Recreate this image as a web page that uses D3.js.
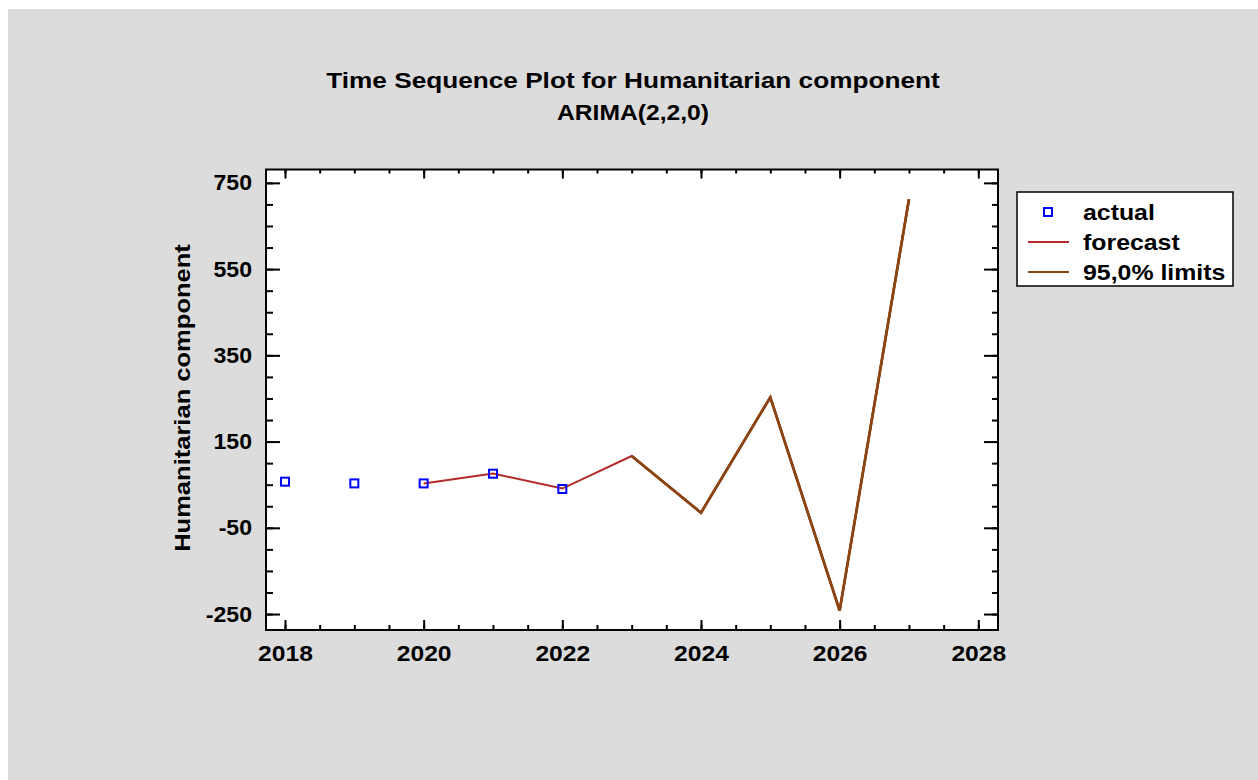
<!DOCTYPE html>
<html>
<head>
<meta charset="utf-8">
<script src="https://cdn.jsdelivr.net/npm/d3@7"></script>
<style>
  html, body { margin: 0; padding: 0; background: #fff; }
  svg { display: block; }
  text { font-family: "Liberation Sans", Arial, sans-serif; font-weight: bold; fill: #000; }
</style>
</head>
<body>
<div id="chart"></div>
<script>
// data
var actualYears = [2018, 2019, 2020, 2021, 2022];
var actualValues = [57, 53, 53, 75.5, 40];
var forecastYears = [2020, 2021, 2022, 2023, 2024, 2025, 2026, 2027];
var forecastValues = [53, 76, 41, 116.6, -15, 252.7, -242, 712];
var limitYears = [2023, 2024, 2025, 2026, 2027];
var upperLimits = [116.6, -15, 252.7, -242, 712];
var lowerLimits = [116.6, -15, 252.7, -242, 712];
var xTicks = [2018, 2020, 2022, 2024, 2026, 2028];
var yTicks = [-250, -50, 150, 350, 550, 750];
var legendLabels = ["actual", "forecast", "95,0% limits"];

var W = 1258, H = 780,
    plot = {left: 266, top: 169.5, right: 998, bottom: 630},
    redCol = "#b22a2a", brownCol = "#8b4513", blueCol = "#0000ff";

var svg = d3.select("#chart").append("svg")
    .attr("width", W).attr("height", H);

svg.append("rect")
    .attr("x", 8).attr("y", 9).attr("width", W - 8).attr("height", H - 9)
    .attr("fill", "#dcdcdc");

var x = d3.scaleLinear().domain([2017.726, 2028.284]).range([plot.left, plot.right]),
    y = d3.scaleLinear().domain([-287, 781]).range([plot.bottom, plot.top]);

svg.append("rect")
    .attr("x", plot.left).attr("y", plot.top)
    .attr("width", plot.right - plot.left).attr("height", plot.bottom - plot.top)
    .attr("fill", "#fff");

var xMinor = d3.range(2018, 2028.01, 0.5),
    yMinor = d3.range(-250, 751, 50);

// the original glyphs are a bit wider than Liberation Sans, stretch them
function widen(sel, k) {
    sel.each(function () {
        var w = this.getComputedTextLength();
        d3.select(this).attr("textLength", w * k).attr("lengthAdjust", "spacingAndGlyphs");
    });
}

function axisStyle(g) {
    g.select(".domain").remove();
    g.selectAll("line").attr("stroke", "#000").attr("stroke-width", 2);
    g.selectAll("text").style("font-size", "22px");
}

// minor ticks
svg.append("g").attr("transform", "translate(" + plot.left + ",0)")
    .call(d3.axisLeft(y).tickValues(yMinor).tickSize(-7).tickFormat(""))
    .call(axisStyle);
svg.append("g").attr("transform", "translate(" + plot.right + ",0)")
    .call(d3.axisRight(y).tickValues(yMinor).tickSize(-6).tickFormat(""))
    .call(axisStyle);
svg.append("g").attr("transform", "translate(0," + plot.bottom + ")")
    .call(d3.axisBottom(x).tickValues(xMinor).tickSize(-5).tickFormat(""))
    .call(axisStyle);
svg.append("g").attr("transform", "translate(0," + plot.top + ")")
    .call(d3.axisTop(x).tickValues(xMinor).tickSize(-4).tickFormat(""))
    .call(axisStyle);

// major ticks + labels
var yAx = svg.append("g").attr("transform", "translate(" + plot.left + ",0)")
    .call(d3.axisLeft(y).tickValues(yTicks).tickSize(-14).tickPadding(14).tickFormat(d => String(d)))
    .call(axisStyle);
svg.append("g").attr("transform", "translate(" + plot.right + ",0)")
    .call(d3.axisRight(y).tickValues(yTicks).tickSize(-14).tickFormat(""))
    .call(axisStyle);
var xAx = svg.append("g").attr("transform", "translate(0," + plot.bottom + ")")
    .call(d3.axisBottom(x).tickValues(xTicks).tickSize(-10).tickPadding(15).tickFormat(d => String(d)))
    .call(axisStyle);
svg.append("g").attr("transform", "translate(0," + plot.top + ")")
    .call(d3.axisTop(x).tickValues(xTicks).tickSize(-9).tickFormat(""))
    .call(axisStyle);
widen(yAx.selectAll("text"), 1.05);
widen(xAx.selectAll("text"), 1.12);

// frame
svg.append("rect")
    .attr("x", plot.left).attr("y", plot.top)
    .attr("width", plot.right - plot.left).attr("height", plot.bottom - plot.top)
    .attr("fill", "none").attr("stroke", "#000").attr("stroke-width", 2);

var line = d3.line().x(d => x(d[0])).y(d => y(d[1]));

svg.append("path")
    .datum(forecastYears.map((yr, i) => [yr, forecastValues[i]]))
    .attr("d", line).attr("fill", "none")
    .attr("stroke", redCol).attr("stroke-width", 2);

[upperLimits, lowerLimits].forEach(vals => {
    svg.append("path")
        .datum(limitYears.map((yr, i) => [yr, vals[i]]))
        .attr("d", line).attr("fill", "none")
        .attr("stroke", brownCol).attr("stroke-width", 2.6);
});

svg.selectAll(".pt")
    .data(actualYears.map((yr, i) => [yr, actualValues[i]]))
    .enter().append("rect")
    .attr("class", "pt")
    .attr("x", d => x(d[0]) - 4).attr("y", d => y(d[1]) - 4)
    .attr("width", 8).attr("height", 8)
    .attr("fill", "none").attr("stroke", blueCol).attr("stroke-width", 2);

// titles
var t1 = svg.append("text").attr("x", 633).attr("y", 88).attr("text-anchor", "middle")
    .style("font-size", "22px").text("Time Sequence Plot for Humanitarian component");
var t2 = svg.append("text").attr("x", 633).attr("y", 120).attr("text-anchor", "middle")
    .style("font-size", "22px").text("ARIMA(2,2,0)");
var yt = svg.append("text")
    .attr("transform", "translate(190,398) rotate(-90)")
    .attr("text-anchor", "middle")
    .style("font-size", "22px").text("Humanitarian component");
widen(t1, 1.19);
widen(t2, 1.12);
widen(yt, 1.16);

// legend
var lg = svg.append("g");
lg.append("rect").attr("x", 1017).attr("y", 192).attr("width", 216).attr("height", 94)
    .attr("fill", "#fff").attr("stroke", "#000").attr("stroke-width", 1.5);
legendLabels.forEach((lab, i) => {
    var cy = 212 + i * 30;
    if (i === 0) {
        lg.append("rect").attr("x", 1044).attr("y", cy - 4).attr("width", 8).attr("height", 8)
            .attr("fill", "none").attr("stroke", blueCol).attr("stroke-width", 2);
    } else {
        lg.append("line").attr("x1", 1028).attr("x2", 1069).attr("y1", cy).attr("y2", cy)
            .attr("stroke", i === 1 ? redCol : brownCol).attr("stroke-width", 2);
    }
    var t = lg.append("text").attr("x", 1083).attr("y", cy + 8)
        .style("font-size", "22px").text(lab);
    widen(t, 1.13);
});
</script>
</body>
</html>
